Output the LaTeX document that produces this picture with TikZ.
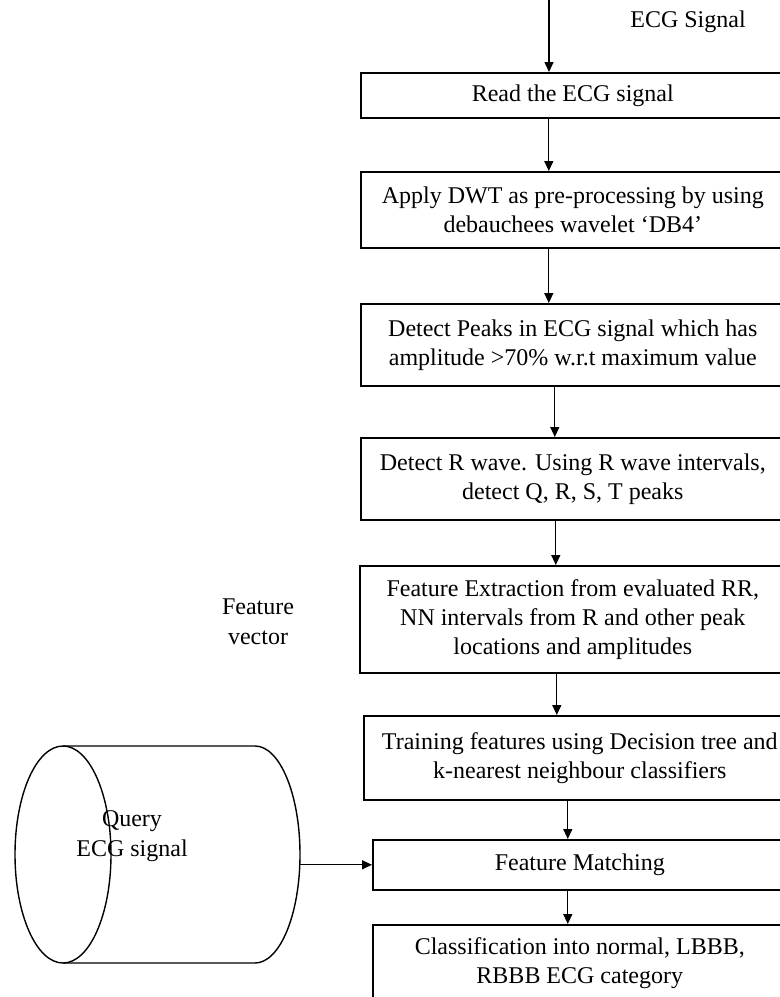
\documentclass[tikz,border=0pt]{standalone}
\usepackage{fontspec}
\setmainfont{Liberation Serif}
\usetikzlibrary{arrows.meta}
\tikzset{
  ecg step/.style={
    draw=black,
    line width=0.8pt,
    fill=white,
    anchor=north west,
    align=center,
    inner sep=2pt,
    font=\fontsize{12}{14.5}\selectfont
  },
  ecg flow/.style={-{Triangle[length=5pt,width=4.5pt]},draw=black,line width=0.65pt},
  ecg label/.style={
    align=center,
    inner sep=1pt,
    font=\fontsize{12}{15}\selectfont
  },
  ecg drum/.style={draw=black,line width=0.7pt}
}
\begin{document}
\begin{tikzpicture}[x=0.5pt,y=-0.5pt]
  \useasboundingbox (0,0) rectangle (780,997);
  \coordinate (src) at (549,0);
  \node[ecg label] (sig) at (688,22) {ECG Signal};

  \node[ecg step,minimum width=212pt,minimum height=22.5pt] (read) at (360,72) {Read the ECG signal};
  \node[ecg step,minimum width=212pt,minimum height=38pt] (dwt) at (360,171) {Apply DWT as pre-processing by using\\debauchees wavelet `DB4'};
  \node[ecg step,minimum width=212pt,minimum height=41pt] (peaks) at (360,303) {Detect Peaks in ECG signal which has\\amplitude >70\% w.r.t maximum value};
  \node[ecg step,minimum width=212pt,minimum height=41pt] (rwave) at (360,437) {Detect R wave. Using R wave intervals,\\detect Q, R, S, T peaks};
  \node[ecg step,minimum width=213pt,minimum height=53.5pt] (extract) at (359,565) {Feature Extraction from evaluated RR,\\NN intervals from R and other peak\\locations and amplitudes};
  \node[ecg step,minimum width=216pt,minimum height=42pt] (train) at (363,715) {Training features using Decision tree and\\k-nearest neighbour classifiers};
  \node[ecg step,minimum width=207pt,minimum height=25pt] (match) at (372,839) {Feature Matching};
  \node[ecg step,minimum width=207pt,minimum height=38pt] (classify) at (372,924) {Classification into normal, LBBB,\\RBBB ECG category};

  \node[ecg label] (fvec) at (258,622) {Feature\\vector};

  % query store, drawn as a lying cylinder
  \draw[ecg drum] (63,746) -- (255,746)
    arc[start angle=-90,end angle=90,x radius=45,y radius=108.5] -- (63,963);
  \draw[ecg drum] (63,854.5) ellipse[x radius=48,y radius=108.5];
  \coordinate (qout) at (300,855);
  \node[ecg label] (qtext) at (132,836) {Query\\ECG signal};

  \draw[ecg flow] (src) -- (src |- read.north);
  \draw[ecg flow] ([xshift=-12pt]read.south) -- ([xshift=-12pt]dwt.north);
  \draw[ecg flow] ([xshift=-12pt]dwt.south) -- ([xshift=-12pt]peaks.north);
  \draw[ecg flow] ([xshift=-9pt]peaks.south) -- ([xshift=-9pt]rwave.north);
  \draw[ecg flow] ([xshift=-8.5pt]rwave.south) -- ([xshift=-8.5pt]extract.north);
  \draw[ecg flow] ([xshift=-8pt]extract.south) -- ([xshift=-8pt]extract.south |- train.north);
  \draw[ecg flow] ([xshift=-6pt]train.south) -- ([xshift=-6pt]match.north);
  \draw[ecg flow] ([xshift=-6pt]match.south) -- ([xshift=-6pt]classify.north);
  \draw[ecg flow] (qout |- match.west) -- (match.west);
\end{tikzpicture}
\end{document}
